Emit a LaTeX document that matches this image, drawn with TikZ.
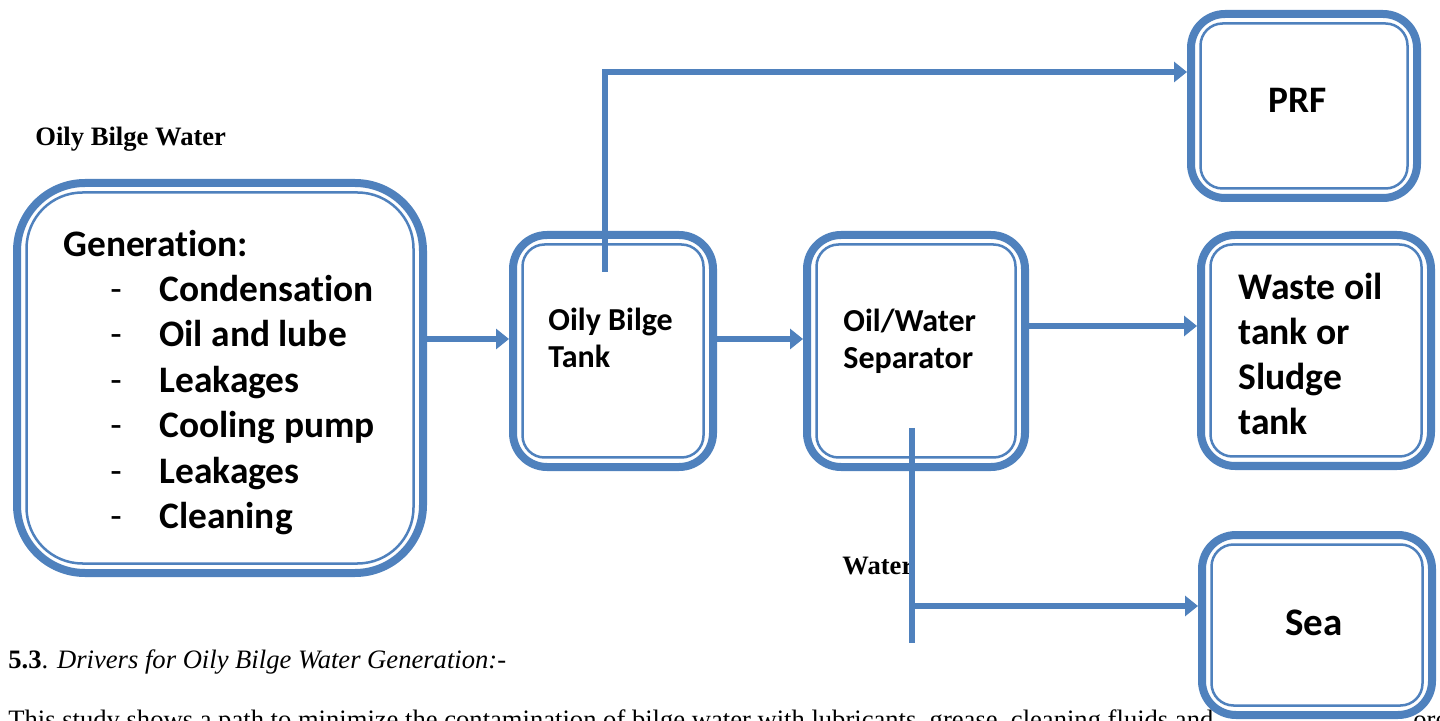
\documentclass[tikz,border=0pt]{standalone}
\usepackage{fontspec}
\setmainfont{Liberation Serif}
\newfontfamily\calibri[Ligatures=NoCommon]{Carlito}
\usetikzlibrary{arrows.meta}
\definecolor{BilgeBlue}{RGB}{79, 129, 189}

\begin{document}
\begin{tikzpicture}[x=0.5pt, y=-0.5pt,
    bilgebox/.style = {draw=BilgeBlue, line width=4pt, fill=white, inner sep=0pt},
    innerline/.style = {draw=BilgeBlue, line width=1.25pt},
    boxtext/.style = {font=\calibri\bfseries\fontsize{18.7}{22.7}\selectfont, inner sep=0pt, align=left},
    smalltext/.style = {font=\calibri\bfseries\fontsize{16}{18.5}\selectfont, inner sep=0pt, align=left},
    dashtext/.style = {font=\calibri\fontsize{18.7}{22.7}\selectfont, inner sep=0pt},
    serifbold/.style = {font=\bfseries\fontsize{13.3}{16}\selectfont, inner sep=0pt},
    serifbody/.style = {font=\fontsize{13.3}{16}\selectfont, inner sep=0pt},
    flow/.style = {draw=BilgeBlue, line width=3pt, -{Triangle[length=6.5pt, width=10pt]}},
    pipe/.style = {draw=BilgeBlue, line width=3pt}]
    \useasboundingbox (0,0) rectangle (1440,721);
    %正文（被截断）
    \begin{scope}
        \clip (0,0) rectangle (1440,721);
        \node[serifbody, anchor=base west] (body) at (8,728) {This study shows a path to minimize the contamination of bilge water with lubricants, grease, cleaning fluids and};
        \node[serifbody, anchor=base west] (bodyend) at (1413,728) {ore};
    \end{scope}
    %方框
    \node[bilgebox, rounded corners=34pt, minimum width=203pt, minimum height=195pt] (gen) at (220,378) {};
    \node[bilgebox, rounded corners=17pt, minimum width=100pt, minimum height=116pt] (tank) at (613,351) {};
    \node[bilgebox, rounded corners=17pt, minimum width=109pt, minimum height=116pt] (sep) at (916,351) {};
    \node[bilgebox, rounded corners=17pt, minimum width=113pt, minimum height=92pt] (prf) at (1304,106) {};
    \node[bilgebox, rounded corners=17pt, minimum width=115pt, minimum height=115.5pt] (waste) at (1316,350.5) {};
    \node[bilgebox, rounded corners=17pt, minimum width=115pt, minimum height=90pt] (sea) at (1317,625) {};
    %内框细线
    \foreach \bx/\rad in {gen/28pt, tank/11pt, sep/11pt, prf/11pt, waste/11pt, sea/11pt}
        \draw[innerline, rounded corners=\rad] ([shift={(13.5,13.5)}]\bx.north west) rectangle ([shift={(-13.5,-13.5)}]\bx.south east);
    %方框文字
    \node[boxtext, anchor=base west] (gentitle) at (63,257) {Generation:};
    \foreach \src [count=\i] in {Condensation, Oil and lube, Leakages, Cooling pump, Leakages, Cleaning} {
        \node[dashtext, anchor=base west] (dash\i) at (110, 256+45.4*\i) {-};
        \node[boxtext, anchor=base west] (item\i) at (159, 256+45.4*\i) {\src};
    }
    \node[smalltext, anchor=base west] (tanktext) at (548,368) {Oily Bilge\\Tank};
    \node[smalltext, anchor=base west] (septext) at (843,369) {Oil/Water\\Separator};
    \node[boxtext, anchor=base] (prftext) at (1298,113) {PRF};
    \node[boxtext, anchor=base west, font=\calibri\bfseries\fontsize{18.8}{22.5}\selectfont] (wastetext) at (1238,435) {Waste oil\\tank or\\Sludge\\tank};
    \node[boxtext, anchor=base, font=\calibri\bfseries\fontsize{19.5}{22.7}\selectfont] (seatext) at (1314,635) {Sea};
    %标签
    \node[serifbold, anchor=base west] (title) at (35,146) {Oily Bilge Water};
    \node[serifbold, anchor=base west] (waterlabel) at (842,574) {Water};
    \node[serifbody, anchor=base west] (section) at (8,668) {\textbf{5.3}. \textit{Drivers for Oily Bilge Water Generation:-}};
    %连线
    \coordinate (tankout) at (605,272);
    \coordinate (sepout) at (912,428);
    \coordinate (waterend) at (912,643);
    \draw[flow] ([yshift=6pt]tank.west -| gen.east) -- ([yshift=6pt]tank.west);
    \draw[flow] ([yshift=6pt]tank.east) -- ([yshift=6pt]sep.west);
    \draw[flow] ([yshift=12.5pt]sep.east) -- ([yshift=12.5pt]sep.east -| waste.west);
    \draw[flow] (tankout) |- ([yshift=17pt]prf.west);
    \draw[pipe] (sepout) -- (waterend);
    \draw[flow] ([yshift=9.5pt]sea.west -| sepout) -- ([yshift=9.5pt]sea.west);
\end{tikzpicture}
\end{document}
